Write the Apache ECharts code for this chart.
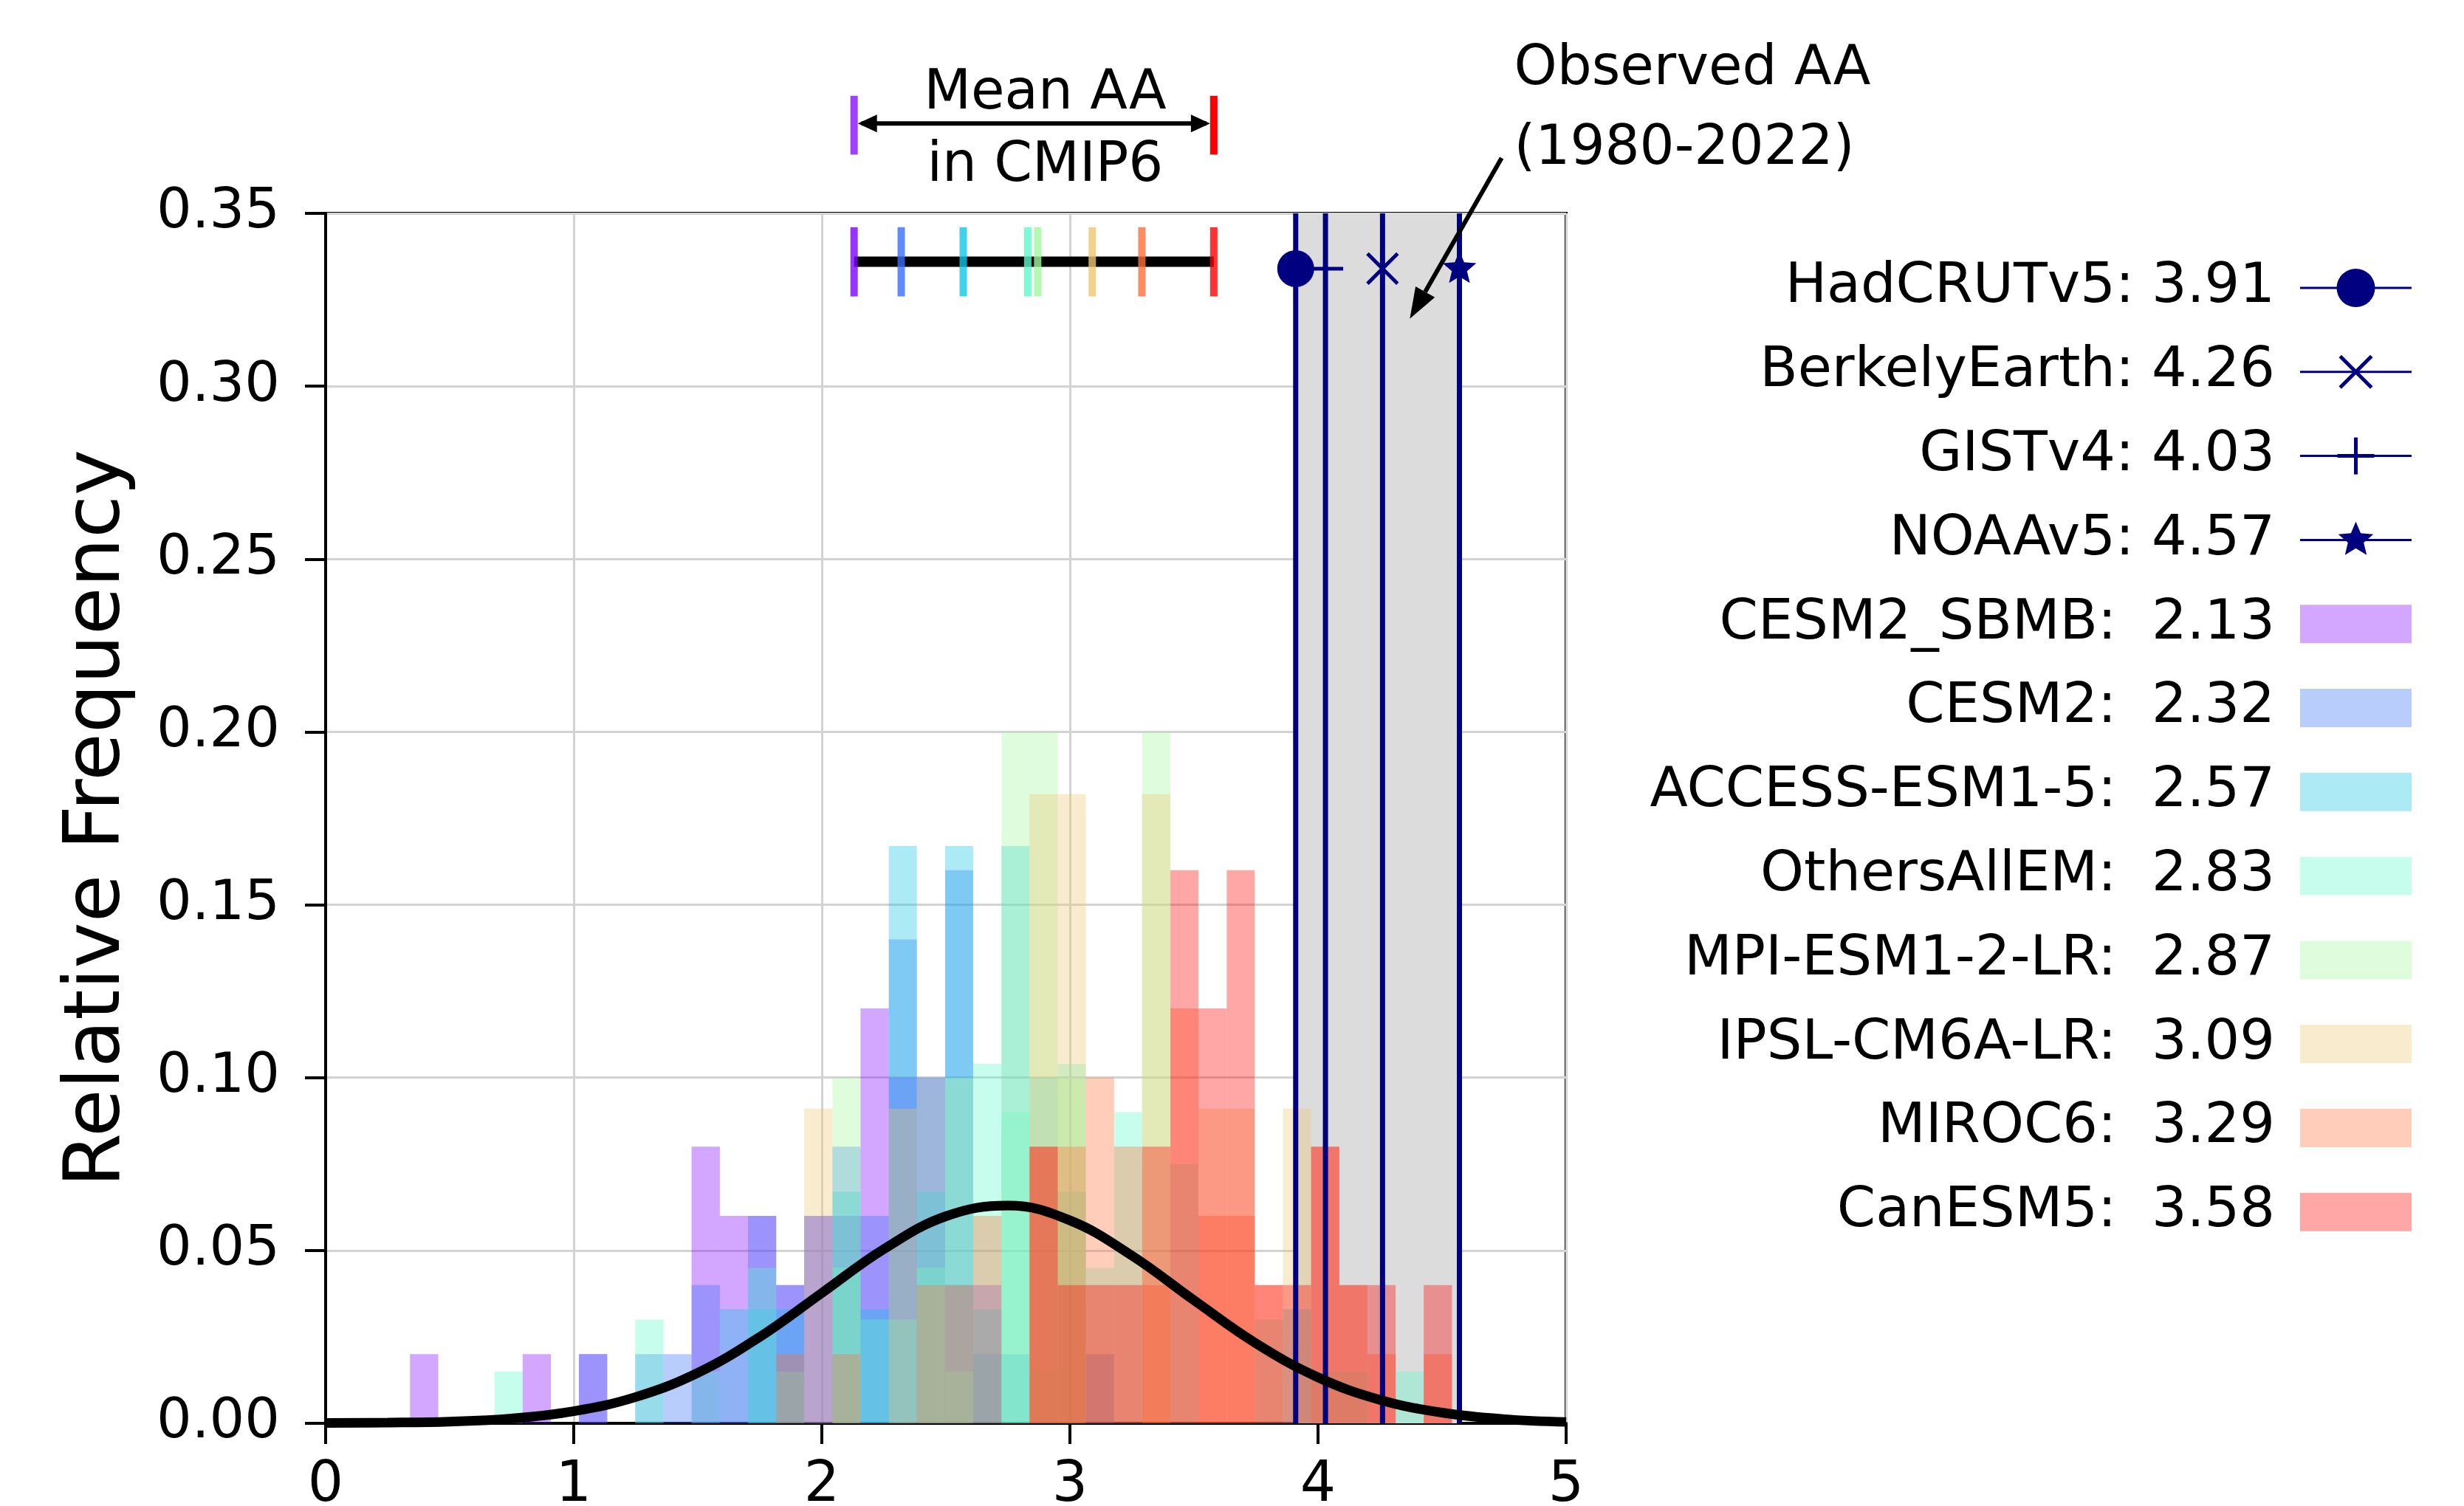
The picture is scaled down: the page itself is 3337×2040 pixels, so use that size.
<!DOCTYPE html>
<html>
<head>
<meta charset="utf-8">
<title>Arctic amplification in CMIP6 and observations</title>
<script src="https://cdn.jsdelivr.net/npm/echarts@6.0.0/dist/echarts.min.js"></script>
<style>
  html, body { margin: 0; padding: 0; background: #ffffff; }
  #chart { width: 3337px; height: 2040px; }
</style>
</head>
<body>
<div id="chart"></div>
<script>
const FONT = '"DejaVu Sans", sans-serif';

// histogram bin edges (AA ratio), shared by every model
const binEdges = [0.34, 0.454, 0.567, 0.681, 0.794, 0.908, 1.021, 1.135, 1.248, 1.362,
  1.475, 1.589, 1.702, 1.816, 1.929, 2.043, 2.156, 2.270, 2.383, 2.497,
  2.610, 2.724, 2.837, 2.951, 3.064, 3.178, 3.291, 3.405, 3.518, 3.632,
  3.745, 3.859, 3.972, 4.086, 4.199, 4.313, 4.426, 4.540];

// relative frequency in each bin, one array per model
const cesm2Sbmb = [0.02, 0, 0, 0, 0.02, 0, 0.02, 0, 0, 0, 0.08, 0.06, 0.06, 0.04, 0.06, 0.06, 0.12, 0.10, 0.10, 0.04,
  0.04, 0, 0, 0, 0, 0, 0, 0, 0, 0, 0, 0, 0, 0, 0, 0, 0];
const cesm2 = [0, 0, 0, 0, 0, 0, 0.02, 0, 0.02, 0.02, 0.04, 0, 0.06, 0.04, 0.06, 0.08, 0.06, 0.14, 0.10, 0.16,
  0.02, 0.02, 0, 0, 0.02, 0, 0, 0, 0, 0, 0, 0, 0, 0, 0, 0, 0];
const accessEsm = [0, 0, 0, 0, 0, 0, 0, 0, 0, 0, 0, 0.033, 0.033, 0.033, 0, 0.067, 0.033, 0.167, 0.067, 0.167,
  0.033, 0.167, 0.1, 0.067, 0, 0, 0, 0, 0, 0, 0, 0.033, 0, 0, 0, 0, 0];
const othersAllEm = [0, 0, 0, 0.015, 0, 0, 0, 0, 0.03, 0, 0.015, 0, 0.045, 0.015, 0, 0.045, 0.03, 0.03, 0.045, 0.015,
  0.104, 0.09, 0.015, 0.104, 0.045, 0.09, 0, 0.075, 0, 0, 0.03, 0, 0.015, 0.015, 0, 0.015, 0];
const mpiEsm = [0, 0, 0, 0, 0, 0, 0, 0, 0, 0, 0, 0, 0, 0, 0, 0.1, 0, 0, 0.1, 0.1,
  0, 0.2, 0.2, 0.1, 0, 0, 0.2, 0, 0, 0, 0, 0, 0, 0, 0, 0, 0];
const ipslCm6a = [0, 0, 0, 0, 0, 0, 0, 0, 0, 0, 0, 0, 0, 0, 0.091, 0, 0, 0.091, 0, 0,
  0, 0, 0.182, 0.182, 0, 0, 0.182, 0, 0.091, 0.091, 0, 0.091, 0, 0, 0, 0, 0];
const miroc6 = [0, 0, 0, 0, 0, 0, 0, 0, 0, 0, 0, 0, 0, 0.02, 0, 0.02, 0, 0, 0.04, 0.04,
  0.06, 0, 0.08, 0.08, 0.1, 0.08, 0.04, 0.12, 0.06, 0.06, 0.04, 0, 0.08, 0.04, 0.02, 0, 0.02];
const canEsm5 = [0, 0, 0, 0, 0, 0, 0, 0, 0, 0, 0, 0, 0, 0, 0, 0, 0, 0, 0, 0,
  0, 0, 0.08, 0.04, 0.04, 0.04, 0.08, 0.16, 0.12, 0.16, 0.04, 0.04, 0.08, 0.04, 0.04, 0, 0.04];

const modelNames = ['CESM2_SBMB', 'CESM2', 'ACCESS-ESM1-5', 'OthersAllEM', 'MPI-ESM1-2-LR', 'IPSL-CM6A-LR', 'MIROC6', 'CanESM5'];
const modelMeans = [2.13, 2.32, 2.57, 2.83, 2.87, 3.09, 3.29, 3.58];
const modelColors = ['#8000ff', '#376ff9', '#12c7e6', '#5bf9c8', '#a4f99f', '#edc76f', '#ff6f39', '#ff0000'];
const modelHists = [cesm2Sbmb, cesm2, accessEsm, othersAllEm, mpiEsm, ipslCm6a, miroc6, canEsm5];

// observed AA (1980-2022)
const obsNames = ['HadCRUTv5', 'BerkelyEarth', 'GISTv4', 'NOAAv5'];
const obsValues = [3.91, 4.26, 4.03, 4.57];
const obsSymbols = ['circle', 'x', 'plus', 'star'];

// normal fit drawn over the histograms
const curveX = [0, 0.25, 0.5, 0.75, 1, 1.25, 1.5, 1.75, 2, 2.25, 2.5, 2.75, 3, 3.25, 3.5, 3.75, 4, 4.25, 4.5, 4.75, 5];
const curveY = [0.0001, 0.0002, 0.0005, 0.0014, 0.0035, 0.0076, 0.0146, 0.025, 0.0377, 0.0504, 0.0599, 0.063,
  0.0587, 0.0485, 0.0356, 0.0231, 0.0133, 0.0068, 0.0031, 0.0012, 0.0004];

const NAVY = '#000080';

function rgba(hex, a) {
  const n = parseInt(hex.slice(1), 16);
  return 'rgba(' + (n >> 16) + ',' + ((n >> 8) & 255) + ',' + (n & 255) + ',' + a + ')';
}

// marker glyphs (plot and legend)
function markerEl(kind, cx, cy, s) {
  if (kind === 'circle') {
    return { type: 'circle', shape: { cx: cx, cy: cy, r: s }, style: { fill: NAVY } };
  }
  if (kind === 'plus') {
    return { type: 'group', children: [
      { type: 'line', shape: { x1: cx - s, y1: cy, x2: cx + s, y2: cy }, style: { stroke: NAVY, lineWidth: 5 } },
      { type: 'line', shape: { x1: cx, y1: cy - s, x2: cx, y2: cy + s }, style: { stroke: NAVY, lineWidth: 5 } }
    ] };
  }
  if (kind === 'x') {
    const d = s * 0.85;
    return { type: 'group', children: [
      { type: 'line', shape: { x1: cx - d, y1: cy - d, x2: cx + d, y2: cy + d }, style: { stroke: NAVY, lineWidth: 5 } },
      { type: 'line', shape: { x1: cx - d, y1: cy + d, x2: cx + d, y2: cy - d }, style: { stroke: NAVY, lineWidth: 5 } }
    ] };
  }
  const pts = [];
  for (let k = 0; k < 10; k++) {
    const ang = -Math.PI / 2 + k * Math.PI / 5;
    const r = k % 2 === 0 ? s : s * 0.45;
    pts.push([cx + r * Math.cos(ang), cy + r * Math.sin(ang)]);
  }
  return { type: 'polygon', shape: { points: pts }, style: { fill: NAVY } };
}

function histSeries(idx) {
  const vals = modelHists[idx];
  const color = rgba(modelColors[idx], 0.35);
  return {
    type: 'custom',
    name: modelNames[idx],
    z: 3,
    encode: { x: [0, 1], y: 2 },
    data: vals.map((v, i) => [binEdges[i], binEdges[i + 1], v]),
    renderItem: function (params, api) {
      const v = api.value(2);
      if (!v) return null;
      const p0 = api.coord([api.value(0), v]);
      const p1 = api.coord([api.value(1), 0]);
      return {
        type: 'rect',
        shape: { x: p0[0], y: p0[1], width: p1[0] - p0[0], height: p1[1] - p0[1] },
        style: { fill: color }
      };
    }
  };
}

// where the annotations sit, in data units
const meanBarY = 0.336;
const meanTickSpan = [0.326, 0.346];
const obsMarkerY = 0.334;
const meanArrowY = 0.376;
const meanArrowTicks = [0.367, 0.384];
const meanLabelX = 2.9;
const meanLabelY = [0.3845, 0.3635];
const obsLabelX = 4.79;
const obsLabelY = [0.3915, 0.3685];
const obsArrowFrom = [4.74, 0.366];
const obsArrowTo = [4.37, 0.3195];

const series = [];

// grey band spanning the observed estimates
series.push({
  type: 'custom',
  z: 1,
  data: [[Math.min.apply(null, obsValues), Math.max.apply(null, obsValues)]],
  encode: { x: [0, 1] },
  renderItem: function (params, api) {
    const p0 = api.coord([api.value(0), 0.35]);
    const p1 = api.coord([api.value(1), 0]);
    return { type: 'rect', shape: { x: p0[0], y: p0[1], width: p1[0] - p0[0], height: p1[1] - p0[1] },
      style: { fill: '#dcdcdc' } };
  }
});

for (let i = 0; i < modelHists.length; i++) series.push(histSeries(i));

// observation lines
series.push({
  type: 'custom',
  z: 4,
  data: obsValues.map((v, i) => [v, i]),
  renderItem: function (params, api) {
    const v = api.value(0);
    const a = api.coord([v, 0]);
    const b = api.coord([v, 0.35]);
    return { type: 'line', shape: { x1: a[0], y1: a[1], x2: b[0], y2: b[1] }, style: { stroke: NAVY, lineWidth: 7 } };
  }
});

series.push({
  type: 'line',
  z: 5,
  clip: false,
  symbol: 'none',
  smooth: 0.4,
  data: curveX.map((x, i) => [x, curveY[i]]),
  lineStyle: { color: '#000', width: 13 }
});

// mean AA range bar along the top
series.push({
  type: 'custom',
  z: 6,
  data: [[Math.min.apply(null, modelMeans), Math.max.apply(null, modelMeans)]],
  encode: { x: [0, 1] },
  renderItem: function (params, api) {
    const a = api.coord([api.value(0), meanBarY]);
    const b = api.coord([api.value(1), meanBarY]);
    return { type: 'line', shape: { x1: a[0], y1: a[1], x2: b[0], y2: b[1] }, style: { stroke: '#000', lineWidth: 14 } };
  }
});
series.push({
  type: 'custom',
  z: 7,
  data: modelMeans.map((m, i) => [m, i]),
  renderItem: function (params, api) {
    const m = api.value(0);
    const a = api.coord([m, meanTickSpan[0]]);
    const b = api.coord([m, meanTickSpan[1]]);
    return { type: 'line', shape: { x1: a[0], y1: a[1], x2: b[0], y2: b[1] },
      style: { stroke: rgba(modelColors[api.value(1)], 0.8), lineWidth: 10 } };
  }
});

// observation markers
series.push({
  type: 'custom',
  z: 8,
  clip: false,
  data: obsValues.map((v, i) => [v, i]),
  renderItem: function (params, api) {
    const p = api.coord([api.value(0), obsMarkerY]);
    const kind = obsSymbols[api.value(1)];
    const size = kind === 'circle' ? 25 : 24;
    return markerEl(kind, p[0], p[1], size);
  }
});

// text annotations above the axes
series.push({
  type: 'custom',
  z: 9,
  clip: false,
  data: [[meanLabelX, meanArrowY]],
  renderItem: function (params, api) {
    const lo = Math.min.apply(null, modelMeans);
    const hi = Math.max.apply(null, modelMeans);
    const a = api.coord([lo, meanArrowY]);
    const b = api.coord([hi, meanArrowY]);
    const ta = [api.coord([lo, meanArrowTicks[0]]), api.coord([lo, meanArrowTicks[1]])];
    const tb = [api.coord([hi, meanArrowTicks[0]]), api.coord([hi, meanArrowTicks[1]])];
    const L = 26, W = 12;
    const t1 = api.coord([meanLabelX, meanLabelY[0]]);
    const t2 = api.coord([meanLabelX, meanLabelY[1]]);
    const o1 = api.coord([obsLabelX, obsLabelY[0]]);
    const o2 = api.coord([obsLabelX, obsLabelY[1]]);
    const f = api.coord(obsArrowFrom);
    const t = api.coord(obsArrowTo);
    const dx = t[0] - f[0], dy = t[1] - f[1];
    const len = Math.sqrt(dx * dx + dy * dy);
    const ux = dx / len, uy = dy / len;
    const HL = 42, HW = 15;
    const base = [t[0] - ux * HL, t[1] - uy * HL];
    const txt = (s, p, align) => ({ type: 'text', style: { text: s, x: p[0], y: p[1], font: '74px ' + FONT,
      fill: '#000', align: align, textAlign: align, verticalAlign: 'middle', textVerticalAlign: 'middle' } });
    return { type: 'group', children: [
      { type: 'line', shape: { x1: ta[0][0], y1: ta[0][1], x2: ta[1][0], y2: ta[1][1] },
        style: { stroke: rgba(modelColors[0], 0.75), lineWidth: 10 } },
      { type: 'line', shape: { x1: tb[0][0], y1: tb[0][1], x2: tb[1][0], y2: tb[1][1] },
        style: { stroke: modelColors[modelColors.length - 1], lineWidth: 10 } },
      { type: 'line', shape: { x1: a[0] + 10, y1: a[1], x2: b[0] - 10, y2: b[1] }, style: { stroke: '#000', lineWidth: 6 } },
      { type: 'polygon', shape: { points: [[a[0] + 5, a[1]], [a[0] + 5 + L, a[1] - W], [a[0] + 5 + L, a[1] + W]] }, style: { fill: '#000' } },
      { type: 'polygon', shape: { points: [[b[0] - 5, b[1]], [b[0] - 5 - L, b[1] - W], [b[0] - 5 - L, b[1] + W]] }, style: { fill: '#000' } },
      txt('Mean AA', t1, 'center'),
      txt('in CMIP6', t2, 'center'),
      txt('Observed AA', o1, 'left'),
      txt('(1980-2022)', o2, 'left'),
      { type: 'line', shape: { x1: f[0], y1: f[1], x2: base[0], y2: base[1] }, style: { stroke: '#000', lineWidth: 6 } },
      { type: 'polygon', shape: { points: [t, [base[0] - uy * HW, base[1] + ux * HW], [base[0] + uy * HW, base[1] - ux * HW]] },
        style: { fill: '#000' } }
    ] };
  }
});

// legend on the right: observations then models
const legendTextRight = 3081;
const legendIconLeft = 3115;
const legendIconRight = 3266;
const legendTop = 390;
const legendStep = 113.8;
const legendEls = [];
obsNames.forEach((n, i) => {
  const y = legendTop + i * legendStep;
  const cx = (legendIconLeft + legendIconRight) / 2;
  legendEls.push({ type: 'text', style: { text: n + ': ' + obsValues[i].toFixed(2), x: legendTextRight, y: y,
    font: '75px ' + FONT, fill: '#000', align: 'right', verticalAlign: 'middle' } });
  legendEls.push({ type: 'line', shape: { x1: legendIconLeft, y1: y, x2: legendIconRight, y2: y }, style: { stroke: NAVY, lineWidth: 3 } });
  legendEls.push(markerEl(obsSymbols[i], cx, y, obsSymbols[i] === 'circle' ? 26 : 25));
});
modelNames.forEach((n, i) => {
  const y = legendTop + (i + obsNames.length) * legendStep;
  legendEls.push({ type: 'text', style: { text: n + ':  ' + modelMeans[i].toFixed(2), x: legendTextRight, y: y,
    font: '75px ' + FONT, fill: '#000', align: 'right', verticalAlign: 'middle' } });
  legendEls.push({ type: 'rect', shape: { x: legendIconLeft, y: y - 26, width: legendIconRight - legendIconLeft, height: 52 },
    style: { fill: rgba(modelColors[i], 0.35) } });
});

const option = {
  animation: false,
  backgroundColor: '#ffffff',
  grid: { left: 441, top: 289, width: 1680, height: 1639, show: true, borderColor: '#000', borderWidth: 4,
    backgroundColor: 'transparent', containLabel: false, outerBoundsMode: 'none' },
  xAxis: {
    type: 'value', min: 0, max: 5, interval: 1,
    axisLine: { show: true, onZero: false, lineStyle: { color: '#000', width: 4 } },
    axisTick: { show: true, length: 28, lineStyle: { color: '#000', width: 4 } },
    axisLabel: { fontSize: 76, fontFamily: FONT, color: '#000', margin: 47 },
    splitLine: { show: true, lineStyle: { color: '#d3d3d3', width: 3 } }
  },
  yAxis: {
    type: 'value', min: 0, max: 0.35, interval: 0.05,
    name: 'Relative Frequency', nameLocation: 'middle', nameGap: 255,
    nameTextStyle: { fontSize: 105, fontFamily: FONT, color: '#000' },
    axisLine: { show: true, lineStyle: { color: '#000', width: 4 } },
    axisTick: { show: true, length: 28, lineStyle: { color: '#000', width: 4 } },
    axisLabel: { fontSize: 75, fontFamily: FONT, color: '#000', margin: 62, formatter: v => v.toFixed(2) },
    splitLine: { show: true, lineStyle: { color: '#d3d3d3', width: 3 } }
  },
  graphic: { elements: legendEls },
  series: series
};

const chart = echarts.init(document.getElementById('chart'));
chart.setOption(option);
</script>
</body>
</html>
